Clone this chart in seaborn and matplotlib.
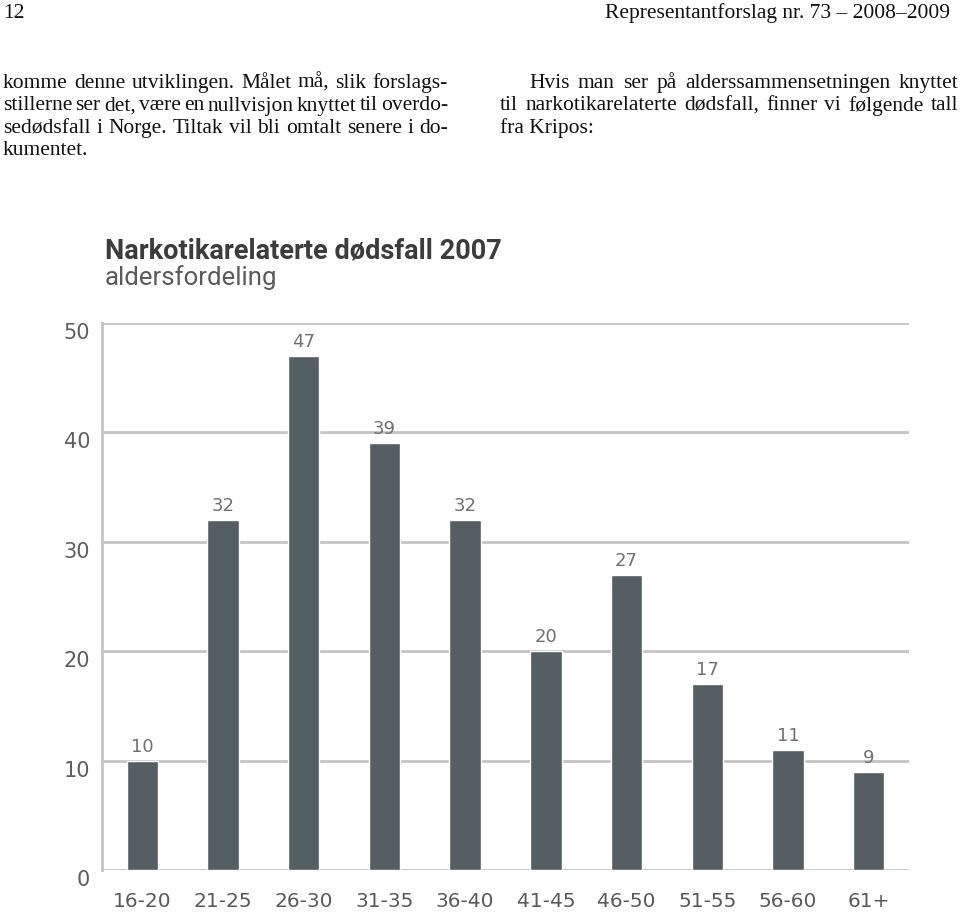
# encoding: utf-8
'''
Narkotikarelaterte dødsfall 2007 - aldersfordeling (side 12)
'''

import matplotlib
matplotlib.use('Agg')
import pandas as pd
import matplotlib.pyplot as plt
import matplotlib.transforms as mtransforms
import seaborn as sns

# ---- data
aldersgrupper = ['16-20', '21-25', '26-30', '31-35', '36-40',
                 '41-45', '46-50', '51-55', '56-60', '61+']
antall = [10, 32, 47, 39, 32, 20, 27, 17, 11, 9]
y_ticks = [0, 10, 20, 30, 40, 50]

venstre_linjer = [
    'komme denne utviklingen. Målet må, slik forslags-',
    'stillerne ser det, være en nullvisjon knyttet til overdo-',
    'sedødsfall i Norge. Tiltak vil bli omtalt senere i do-',
    'kumentet.',
]
hoyre_linjer = [
    'Hvis man ser på alderssammensetningen knyttet',
    'til narkotikarelaterte dødsfall, finner vi følgende tall',
    'fra Kripos:',
]

W, H = 960, 914


def px(x, y):
    # pikselkoordinater (fra toppen) -> figurkoordinater
    return x / W, 1 - y / H


def justert_linje(fig, renderer, tekst, x0, x1, y, siste=False, **kw):
    '''skriv en linje blokkjustert mellom x0 og x1 (piksler)'''
    ord_liste = tekst.split(' ')
    if siste or len(ord_liste) == 1:
        fig.text(*px(x0, y), tekst, ha='left', va='baseline', **kw)
        return
    bredder = []
    for o in ord_liste:
        t = fig.text(0, 0, o, **kw)
        bredder.append(t.get_window_extent(renderer).width)
        t.remove()
    mellomrom = (x1 - x0 - sum(bredder)) / (len(ord_liste) - 1)
    x = x0
    for o, b in zip(ord_liste, bredder):
        fig.text(*px(x, y), o, ha='left', va='baseline', **kw)
        x += b + mellomrom


def main():
    df = pd.DataFrame({'alder': aldersgrupper, 'antall': antall})

    sns.set_style('white')
    plt.rcParams['font.family'] = 'DejaVu Sans'

    fig = plt.figure(figsize=(W / 100, H / 100), dpi=100)
    fig.patch.set_facecolor('white')
    renderer = fig.canvas.get_renderer()

    # ---- sidetekst
    serif = dict(family='Liberation Serif', fontsize=15.5, color='#111111')
    fig.text(*px(3, 18), '12', ha='left', va='baseline', **serif)
    fig.text(*px(950, 18), 'Representantforslag nr. 73 – 2008–2009',
             ha='right', va='baseline', **serif)

    y_venstre = [88, 110.5, 133, 155]
    for i, linje in enumerate(venstre_linjer):
        justert_linje(fig, renderer, linje, 3, 448, y_venstre[i],
                      siste=(i == len(venstre_linjer) - 1), **serif)

    y_hoyre = [88, 110.5, 133]
    x_start = [529, 500, 500]
    for i, linje in enumerate(hoyre_linjer):
        justert_linje(fig, renderer, linje, x_start[i], 958, y_hoyre[i],
                      siste=(i == len(hoyre_linjer) - 1), **serif)

    # ---- diagramtittel
    fig.text(*px(105, 258), 'Narkotikarelaterte dødsfall 2007', ha='left',
             va='baseline', fontsize=19.5, fontweight='bold',
             family='Roboto', color='#3c3c3c')
    fig.text(*px(105, 285), 'aldersfordeling', ha='left',
             va='baseline', fontsize=18.5, family='Roboto', color='#5a5a5a')

    # ---- søylediagram
    left, right = 102, 909
    top, bottom = 323, 870
    ax = fig.add_axes([left / W, 1 - bottom / H, (right - left) / W, (bottom - top) / H])
    sns.barplot(data=df, x='alder', y='antall', color='#555e63', saturation=1,
                width=0.39, ax=ax, zorder=3)

    ax.set_ylim(0, 50)
    ax.set_xlim(-0.5, len(aldersgrupper) - 0.5)
    ax.set_yticks(y_ticks)
    ax.yaxis.grid(True, color='#c4c4c4', linewidth=2)
    ax.set_axisbelow(True)
    for s in ['top', 'right', 'bottom']:
        ax.spines[s].set_visible(False)
    ax.spines['left'].set_color('#c4c4c4')
    ax.spines['left'].set_linewidth(2)
    ax.set_xlabel('')
    ax.set_ylabel('')
    ax.tick_params(axis='y', length=0, pad=8.5, labelsize=15, labelcolor='#5e5e5e')
    ax.tick_params(axis='x', length=0, pad=16, labelsize=14.5, labelcolor='#5a5a5a')

    # y-etikettene står litt under rutenettlinjene i originalen
    ned = mtransforms.ScaledTranslation(0, -8 / 100, fig.dpi_scale_trans)
    for lbl in ax.get_yticklabels():
        lbl.set_transform(lbl.get_transform() + ned)

    for i, v in enumerate(antall):
        ax.annotate(str(v), (i, v), xytext=(0, 3.5), textcoords='offset points',
                    ha='center', va='bottom', fontsize=13, color='#707070')

    fig.savefig('out.png', dpi=100)


if __name__ == '__main__':
    main()
